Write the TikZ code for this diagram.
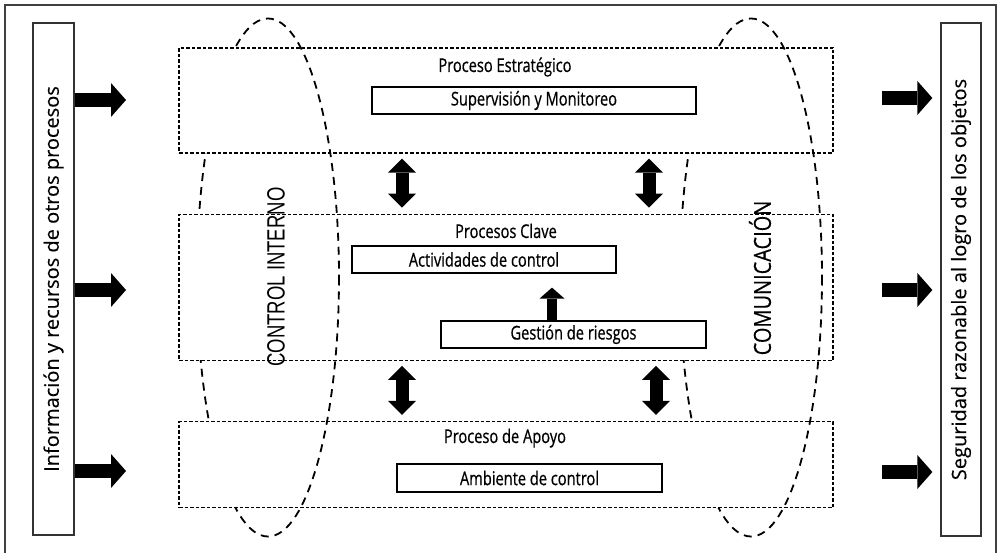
\documentclass[tikz,border=0pt]{standalone}
\usepackage{fontspec}
\usepackage{tikz}
\usetikzlibrary{positioning,arrows.meta}

\newfontfamily\procfont[FakeStretch=0.77, FakeBold=0.6]{Open Sans}
\newfontfamily\sidefont[FakeBold=0.3]{Open Sans}
\newfontfamily\ctrlfont[FakeStretch=0.74]{Liberation Sans}
\newfontfamily\comfont[FakeStretch=0.85, FakeBold=0.3]{Open Sans}

\tikzset{
  frame/.style={draw=black!75, line width=1.3pt},
  ring/.style={draw, line width=1.8pt, dash pattern=on 8pt off 6pt},
  proc/.style={draw, line width=1.3pt, dash pattern=on 3.5pt off 2pt, fill=white, inner sep=0pt},
  item/.style={draw, line width=1.2pt, fill=white, inner sep=0pt, font=\procfont\fontsize{19}{19}\selectfont},
  title/.style={inner sep=0pt, font=\procfont\fontsize{19}{19}\selectfont},
  sidebox/.style={draw=black!80, line width=1.3pt, fill=white, inner sep=0pt},
  sidetext/.style={rotate=90, inner sep=0pt, font=\sidefont\fontsize{20}{20}\selectfont},
  blockarrow/.style={line width=14pt, -{Triangle[length=15pt, width=34pt, line width=0pt]}},
  dblarrow/.style={line width=13pt, {Triangle[length=14pt, width=28pt, line width=0pt]}-{Triangle[length=14pt, width=28pt, line width=0pt]}},
  smallarrow/.style={line width=10pt, -{Triangle[length=11pt, width=25pt, line width=0pt]}}
}

\begin{document}
\begin{tikzpicture}[x=1pt, y=-1pt]
  \useasboundingbox (0,0) rectangle (1002,553);
  \draw[frame] (5,5) rectangle (996,570); % marco

  % anillos: mitad de atras
  \foreach \cx in {268,751} {
    \begin{scope}
      \clip (\cx-100,0) rectangle (\cx,553);
      \draw[ring] (\cx,277.5) ellipse [x radius=71, y radius=259];
    \end{scope}
  }

  % procesos
  \node[proc, minimum width=654pt, minimum height=105pt] (estrategico) at (506,100.5) {}; %
  \node[proc, minimum width=654pt, minimum height=146pt, below=60pt of estrategico] (clave) {}; %
  \node[proc, minimum width=654pt, minimum height=86pt, below=60pt of clave] (apoyo) {}; %

  % anillos: mitad de delante
  \foreach \cx in {268,751} {
    \begin{scope}
      \clip (\cx,0) rectangle (\cx+100,553);
      \draw[ring] (\cx,277.5) ellipse [x radius=71, y radius=259];
    \end{scope}
  }

  \node[title, anchor=base] (testrategico) at (505,72) {Proceso Estratégico}; %
  \node[title, anchor=base] (tclave) at (506,238) {Procesos Clave}; %
  \node[title, anchor=base] (tapoyo) at (505,443) {Proceso de Apoyo}; %

  \node[item, minimum width=324pt, minimum height=27pt] (supervision) at (534,100.5) {Supervisión y Monitoreo}; %
  \node[item, minimum width=264pt, minimum height=27pt] (actividades) at (484,259.5) {Actividades de control}; %
  \node[item, minimum width=265pt, minimum height=27pt] (gestion) at (573.5,334.5) {Gestión de riesgos}; %
  \node[item, minimum width=265pt, minimum height=28pt] (ambiente) at (529.5,478) {Ambiente de control}; %

  \node[rotate=90, inner sep=0pt, font=\ctrlfont\fontsize{25}{25}\selectfont] (control) at (276,277) {CONTROL INTERNO}; %
  \node[rotate=90, inner sep=0pt, font=\comfont\fontsize{23.5}{23.5}\selectfont] (comunicacion) at (760,278) {COMUNICACIÓN}; %

  % entradas y salidas
  \node[sidebox, minimum width=41pt, minimum height=512pt] (inbox) at (53.5,279) {}; %
  \node[sidetext] at (inbox) {Información y recursos de otros procesos}; %
  \node[sidebox, minimum width=40pt, minimum height=513pt] (outbox) at (961,279.5) {}; %
  \node[sidetext] at (outbox) {Seguridad razonable al logro de los objetos}; %

  \coordinate (in1) at (126,100);
  \coordinate (in2) at (126,290);
  \coordinate (in3) at (126,471);
  \coordinate (out1) at (882,98);
  \coordinate (out2) at (882,290);
  \coordinate (out3) at (882,472);
  \draw[blockarrow] (inbox.east |- in1) -- (in1);
  \draw[blockarrow] (inbox.east |- in2) -- (in2);
  \draw[blockarrow] (inbox.east |- in3) -- (in3);
  \draw[blockarrow, shorten >=8pt] (out1) -- (outbox.west |- out1);
  \draw[blockarrow, shorten >=8pt] (out2) -- (outbox.west |- out2);
  \draw[blockarrow, shorten >=8pt] (out3) -- (outbox.west |- out3);

  \draw[dblarrow, shorten <=5pt, shorten >=6pt] ([xshift=-104pt]estrategico.south) -- ([xshift=-104pt]clave.north);
  \draw[dblarrow, shorten <=5pt, shorten >=6pt] ([xshift=143pt]estrategico.south) -- ([xshift=143pt]clave.north);
  \draw[dblarrow, shorten <=5pt, shorten >=6pt] ([xshift=-104pt]clave.south) -- ([xshift=-104pt]apoyo.north);
  \draw[dblarrow, shorten <=5pt, shorten >=6pt] ([xshift=150pt]clave.south) -- ([xshift=150pt]apoyo.north);
  \draw[smallarrow, shorten >=14pt] ([xshift=-21.5pt]gestion.north) -- ([xshift=-21.5pt]gestion.north |- actividades.south);
\end{tikzpicture}
\end{document}
